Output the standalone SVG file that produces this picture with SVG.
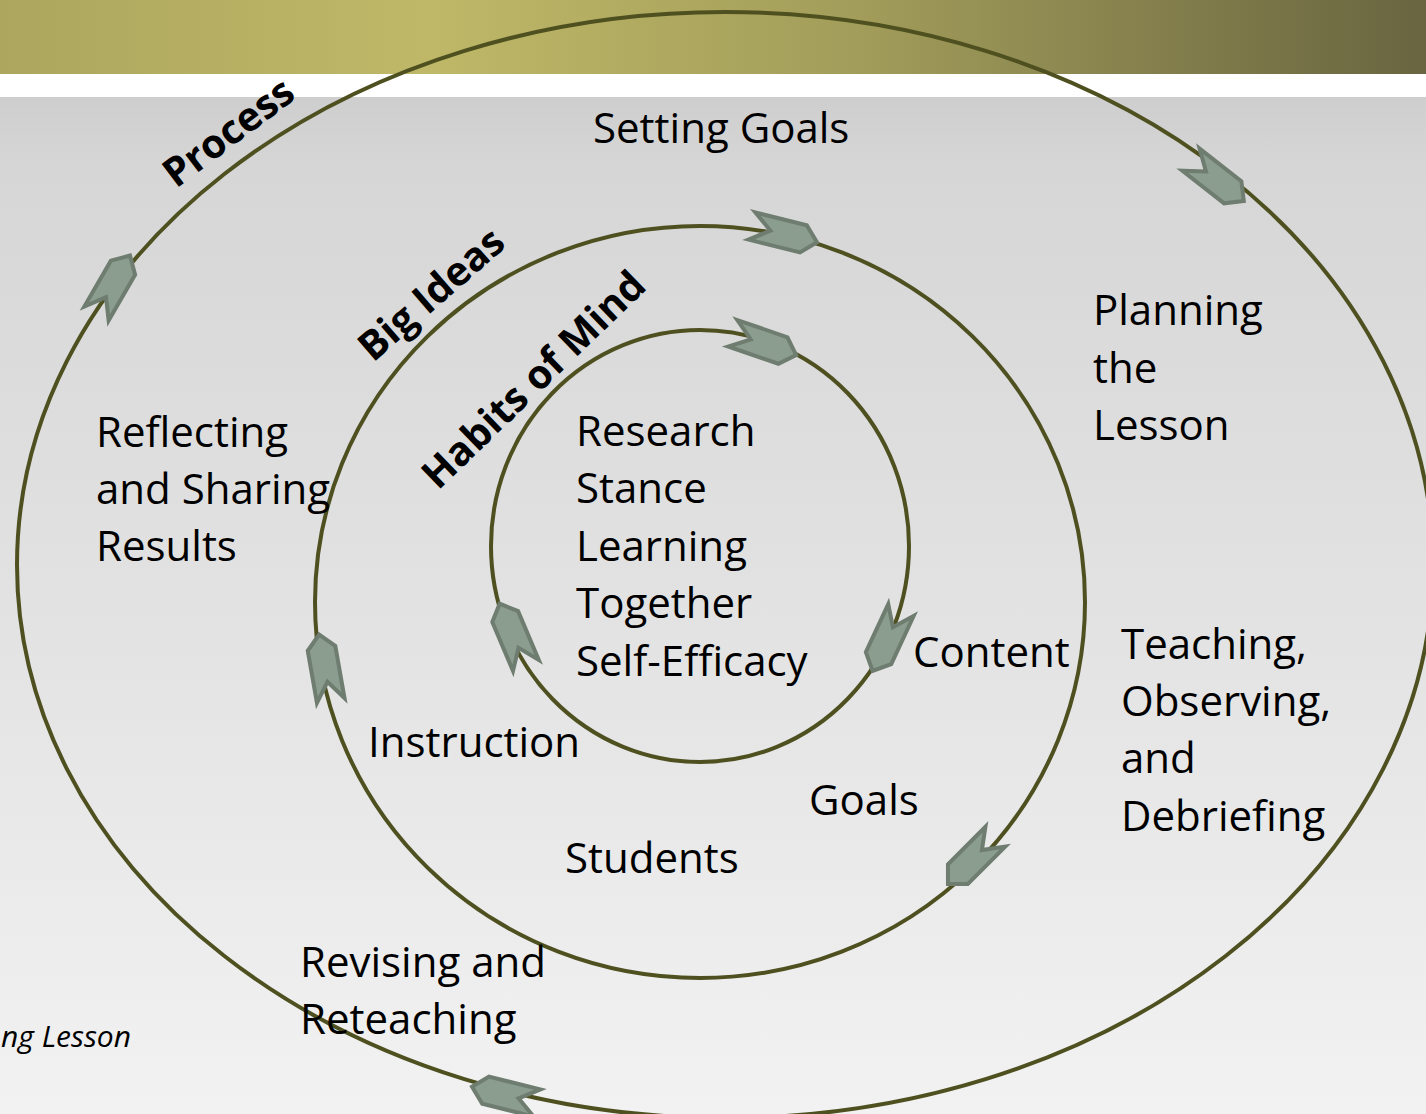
<svg xmlns="http://www.w3.org/2000/svg" xmlns:xlink="http://www.w3.org/1999/xlink" width="1426" height="1114" viewBox="0 0 1426 1114">
<defs>
<linearGradient id="bar" x1="0" y1="0" x2="1" y2="0">
<stop offset="0" stop-color="#aca65e"/>
<stop offset="0.3" stop-color="#bfb868"/>
<stop offset="0.6" stop-color="#a29d5a"/>
<stop offset="1" stop-color="#696540"/>
</linearGradient>
<linearGradient id="bg" x1="0" y1="0" x2="0" y2="1">
<stop offset="0" stop-color="#c3c3c3"/>
<stop offset="0.15" stop-color="#d6d6d6"/>
<stop offset="0.6" stop-color="#e4e4e4"/>
<stop offset="1" stop-color="#f2f2f2"/>
</linearGradient>
<polygon id="arr" points="-33,-14 20,-14 34,0 20,14 -33,14 -14,0"/>
<style>
.ring{fill:none;stroke:#4f5020;stroke-width:4}
.lbl{font-family:"Open Sans","Noto Sans",sans-serif;font-size:42px;fill:#000}
.ttl{font-family:"Open Sans","Noto Sans",sans-serif;font-size:40px;font-weight:bold;fill:#000}
.arrow{fill:#8b9d8e;stroke:#6e7d70;stroke-width:4;stroke-linejoin:miter}
</style>
</defs>
<rect x="0" y="0" width="1426" height="1114" fill="url(#bg)"/>
<rect x="0" y="0" width="1426" height="74" fill="url(#bar)"/>
<rect x="0" y="74" width="1426" height="23" fill="#ffffff"/>

<g id="ring-process">
<ellipse class="ring" cx="725" cy="565" rx="708" ry="553"/>
</g>
<g id="ring-big-ideas">
<ellipse class="ring" cx="700" cy="602" rx="385" ry="376"/>
</g>
<g id="ring-habits">
<ellipse class="ring" cx="700" cy="546" rx="209" ry="216"/>
</g>

<g id="connectors">
<use xlink:href="#arr" class="arrow" transform="translate(1217,180) rotate(38)"/>
<use xlink:href="#arr" class="arrow" transform="translate(113,285) rotate(-60)"/>
<use xlink:href="#arr" class="arrow" transform="translate(505,1095) rotate(194)"/>
<use xlink:href="#arr" class="arrow" transform="translate(784,234) rotate(14)"/>
<use xlink:href="#arr" class="arrow" transform="translate(972,860) rotate(135)"/>
<use xlink:href="#arr" class="arrow" transform="translate(325,668) rotate(-100)"/>
<use xlink:href="#arr" class="arrow" transform="translate(764,344) rotate(19)"/>
<use xlink:href="#arr" class="arrow" transform="translate(513,635) rotate(-113)"/>
<use xlink:href="#arr" class="arrow" transform="translate(887,640) rotate(115)"/>
</g>

<g id="title-process"><text class="ttl" transform="translate(176,189) rotate(-37)">Process</text></g>
<g id="title-big-ideas"><text class="ttl" transform="translate(373,363) rotate(-41)">Big Ideas</text></g>
<g id="title-habits"><text class="ttl" transform="translate(438,491) rotate(-44)">Habits of Mind</text></g>

<g id="node-setting-goals"><text class="lbl" x="593" y="143">Setting Goals</text></g>
<g id="node-planning"><text class="lbl" x="1093" y="325">Planning<tspan x="1093" y="383">the</tspan><tspan x="1093" y="440">Lesson</tspan></text></g>
<g id="node-teaching"><text class="lbl" x="1121" y="659">Teaching,<tspan x="1121" y="716">Observing,</tspan><tspan x="1121" y="773">and</tspan><tspan x="1121" y="831">Debriefing</tspan></text></g>
<g id="node-revising"><text class="lbl" x="300" y="977">Revising and<tspan x="300" y="1034">Reteaching</tspan></text></g>
<g id="node-reflecting"><text class="lbl" x="96" y="447">Reflecting<tspan x="96" y="504">and Sharing</tspan><tspan x="96" y="561">Results</tspan></text></g>
<g id="node-content"><text class="lbl" x="913" y="667">Content</text></g>
<g id="node-goals"><text class="lbl" x="809" y="815">Goals</text></g>
<g id="node-students"><text class="lbl" x="565" y="873">Students</text></g>
<g id="node-instruction"><text class="lbl" x="368" y="757">Instruction</text></g>
<g id="node-habits-list"><text class="lbl" x="576" y="446">Research<tspan x="576" y="503">Stance</tspan><tspan x="576" y="561">Learning</tspan><tspan x="576" y="618">Together</tspan><tspan x="576" y="676">Self-Efficacy</tspan></text></g>
<g id="caption"><text x="1" y="1047" font-family="'Open Sans','Noto Sans',sans-serif" font-size="30" font-style="italic" fill="#000">ng Lesson</text></g>
</svg>
